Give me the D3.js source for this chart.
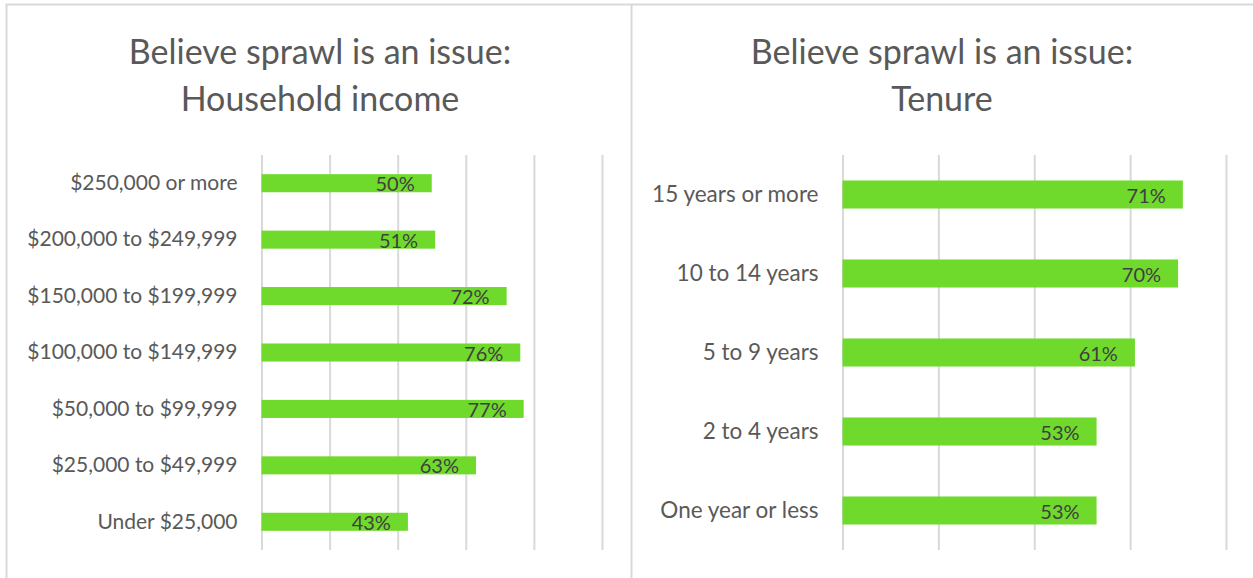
<!DOCTYPE html>
<html>
<head>
<meta charset="utf-8">
<script src="https://cdn.jsdelivr.net/npm/d3@7"></script>
<style>
  html, body { margin: 0; padding: 0; background: #fff; }
  svg { display: block; }
  text { font-family: "Lato", "DejaVu Sans", sans-serif; }
</style>
</head>
<body>
<svg id="chart" width="1253" height="578"></svg>
<script>
// ---- Data ----
const incomeCategories = ["$250,000 or more", "$200,000 to $249,999", "$150,000 to $199,999",
  "$100,000 to $149,999", "$50,000 to $99,999", "$25,000 to $49,999", "Under $25,000"];
const incomeValues = [50, 51, 72, 76, 77, 63, 43];
const incomeTicks = [0, 20, 40, 60, 80, 100];

const tenureCategories = ["15 years or more", "10 to 14 years", "5 to 9 years", "2 to 4 years", "One year or less"];
const tenureValues = [71, 70, 61, 53, 53];
const tenureTicks = [0, 20, 40, 60, 80];

const titles = [["Believe sprawl is an issue:", "Household income"], ["Believe sprawl is an issue:", "Tenure"]];

// ---- Drawing ----
const svg = d3.select("#chart");
const BAR = "#6fda2c", GRID = "#d9d9d9", TXT = "#595959", LBL = "#404040";

// panel borders
svg.append("rect").attr("x", 6.5).attr("y", 4.5).attr("width", 625).attr("height", 600)
  .attr("fill", "none").attr("stroke", GRID).attr("stroke-width", 2);
svg.append("line").attr("x1", 631.5).attr("x2", 1260).attr("y1", 4.5).attr("y2", 4.5)
  .attr("stroke", GRID).attr("stroke-width", 2);

function panel(cfg) {
  const g = svg.append("g");
  const x = d3.scaleLinear().domain([0, d3.max(cfg.ticks)]).range([cfg.x0, cfg.x1]);
  const y = d3.scaleBand().domain(cfg.cats).range([cfg.y0, cfg.y1]).paddingInner(cfg.pad).paddingOuter(cfg.pad / 2);

  // title
  const t = g.append("text").attr("text-anchor", "middle").attr("fill", TXT)
    .attr("font-size", cfg.titleSize);
  cfg.title.forEach((line, i) => {
    t.append("tspan").attr("x", cfg.titleX).attr("y", 64 + i * 47).text(line);
  });

  // gridlines
  g.append("g").attr("transform", `translate(0,${cfg.y1})`)
    .call(d3.axisBottom(x).tickValues(cfg.ticks).tickSize(-(cfg.y1 - cfg.y0)).tickFormat(""))
    .call(a => a.select(".domain").remove())
    .call(a => a.selectAll(".tick line").attr("stroke", GRID).attr("stroke-width", 2));

  // bars
  const data = cfg.cats.map((c, i) => ({ c, v: cfg.vals[i] }));
  g.selectAll("rect.bar").data(data).enter().append("rect")
    .attr("x", x(0)).attr("y", d => y(d.c))
    .attr("width", d => x(d.v) - x(0)).attr("height", y.bandwidth())
    .attr("fill", BAR);

  // value labels
  g.selectAll("text.val").data(data).enter().append("text")
    .attr("x", d => x(d.v) - 17).attr("y", d => y(d.c) + y.bandwidth() / 2)
    .attr("text-anchor", "end").attr("dominant-baseline", "central")
    .attr("font-size", 20).attr("fill", LBL).text(d => d.v + "%");

  // category labels
  g.append("g").attr("transform", `translate(${cfg.x0 - 24},0)`)
    .call(d3.axisLeft(y).tickSize(0).tickPadding(0))
    .call(a => a.select(".domain").remove())
    .call(a => a.selectAll("text").attr("font-size", cfg.catSize).attr("fill", TXT)
      .attr("font-family", "Lato, sans-serif"));
}

panel({ cats: incomeCategories, vals: incomeValues, ticks: incomeTicks, title: titles[0],
  x0: 261.5, x1: 602, y0: 155, y1: 550, pad: 0.68, titleX: 320, titleSize: 34, catSize: 21 });
panel({ cats: tenureCategories, vals: tenureValues, ticks: tenureTicks, title: titles[1],
  x0: 842.5, x1: 1226, y0: 155, y1: 550, pad: 0.645, titleX: 942, titleSize: 34, catSize: 22.5 });
</script>
</body>
</html>
